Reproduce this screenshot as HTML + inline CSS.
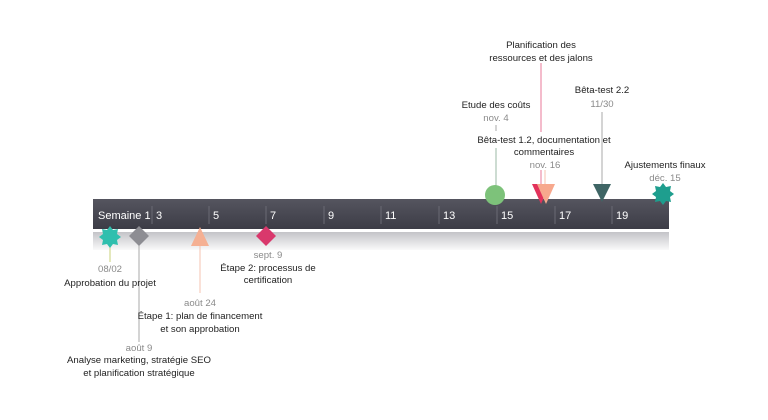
<!DOCTYPE html>
<html><head><meta charset="utf-8"><style>
html,body{margin:0;padding:0;background:#fff;}
svg{display:block;font-family:"Liberation Sans",sans-serif;}
.t{font-size:9.6px;fill:#222;text-anchor:middle;}
.d{font-size:9.6px;fill:#8a8a8a;text-anchor:middle;}
.w{font-size:11px;fill:#fff;}
</style></head><body>
<svg width="768" height="420" viewBox="0 0 768 420" xmlns="http://www.w3.org/2000/svg">
<defs>
<linearGradient id="bar" x1="0" y1="0" x2="0" y2="1"><stop offset="0" stop-color="#55555f"/><stop offset="1" stop-color="#3c3c46"/></linearGradient>
<linearGradient id="sh" x1="0" y1="0" x2="0" y2="1"><stop offset="0" stop-color="#c4c4c8"/><stop offset="1" stop-color="#fafafa"/></linearGradient>
</defs>
<rect x="93" y="232" width="576" height="18" fill="url(#sh)"/>
<rect x="93" y="199" width="576" height="30" fill="url(#bar)"/>
<g stroke="#6a6a74" stroke-width="1">
<line x1="152" y1="206" x2="152" y2="224"/><line x1="209" y1="206" x2="209" y2="224"/><line x1="266" y1="206" x2="266" y2="224"/><line x1="324" y1="206" x2="324" y2="224"/><line x1="381" y1="206" x2="381" y2="224"/><line x1="439" y1="206" x2="439" y2="224"/><line x1="497" y1="206" x2="497" y2="224"/><line x1="555" y1="206" x2="555" y2="224"/><line x1="612" y1="206" x2="612" y2="224"/>
</g>
<g class="w"><text x="98" y="219">Semaine 1</text><text x="156" y="219">3</text><text x="213" y="219">5</text><text x="270" y="219">7</text><text x="328" y="219">9</text><text x="385" y="219">11</text><text x="443" y="219">13</text><text x="501" y="219">15</text><text x="559" y="219">17</text><text x="616" y="219">19</text></g>
<!-- connectors -->
<line x1="110" y1="242" x2="110" y2="262" stroke="#c8d27a"/>
<line x1="139" y1="242" x2="139" y2="342" stroke="#aaa"/>
<line x1="200" y1="242" x2="200" y2="293" stroke="#f4c3b0"/>
<line x1="496" y1="148" x2="496" y2="186" stroke="#9bb8a4"/>
<line x1="496" y1="125" x2="496" y2="131" stroke="#aaa"/>
<line x1="541" y1="63" x2="541" y2="132" stroke="#e87a9a"/>
<line x1="541" y1="170" x2="541" y2="186" stroke="#e87a9a"/>
<line x1="545" y1="170" x2="545" y2="186" stroke="#f4c3b0"/>
<line x1="602" y1="112" x2="602" y2="186" stroke="#aaa"/>
<!-- markers -->
<polygon points="110,226 113,230 118,229 117,234 121,237 117,240 118,245 113,244 110,248 107,244 102,245 103,240 99,237 103,234 102,229 107,230" fill="#2fbfae"/>
<polygon points="139,226 149,236 139,246 129,236" fill="#8d8d93"/>
<polygon points="200,227 209,246 191,246" fill="#f5b093"/>
<polygon points="266,226 276,236 266,246 256,236" fill="#d9386c"/>
<circle cx="495" cy="195" r="10" fill="#7dc27a"/>
<polygon points="532,184 550,184 541,204" fill="#e2325b"/>
<polygon points="537,184 555,184 546,204" fill="#f7a88d"/>
<polygon points="593,184 611,184 602,202" fill="#3f6565"/>
<polygon points="663,183 666,187 671,186 670,191 674,194 670,197 671,202 666,201 663,205 660,201 655,202 656,197 652,194 656,191 655,186 660,187" fill="#1e9e8e"/>
<!-- labels -->
<text class="d" x="110" y="272">08/02</text>
<text class="t" x="110" y="286">Approbation du projet</text>
<text class="d" x="200" y="306">août 24</text>
<text class="t" x="200" y="319">Étape 1: plan de financement</text>
<text class="t" x="200" y="332">et son approbation</text>
<text class="d" x="139" y="351">août 9</text>
<text class="t" x="139" y="363">Analyse marketing, stratégie SEO</text>
<text class="t" x="139" y="376">et planification stratégique</text>
<text class="d" x="268" y="258">sept. 9</text>
<text class="t" x="268" y="271">Étape 2: processus de</text>
<text class="t" x="268" y="283">certification</text>
<text class="t" x="541" y="48">Planification des</text>
<text class="t" x="541" y="61">ressources et des jalons</text>
<text class="t" x="496" y="108">Etude des coûts</text>
<text class="d" x="496" y="121">nov. 4</text>
<text class="t" x="602" y="93">Bêta-test 2.2</text>
<text class="d" x="602" y="107">11/30</text>
<text class="t" x="544" y="143">Bêta-test 1.2, documentation et</text>
<text class="t" x="544" y="155">commentaires</text>
<text class="d" x="545" y="168">nov. 16</text>
<text class="t" x="665" y="168">Ajustements finaux</text>
<text class="d" x="665" y="181">déc. 15</text>
</svg>
</body></html>
